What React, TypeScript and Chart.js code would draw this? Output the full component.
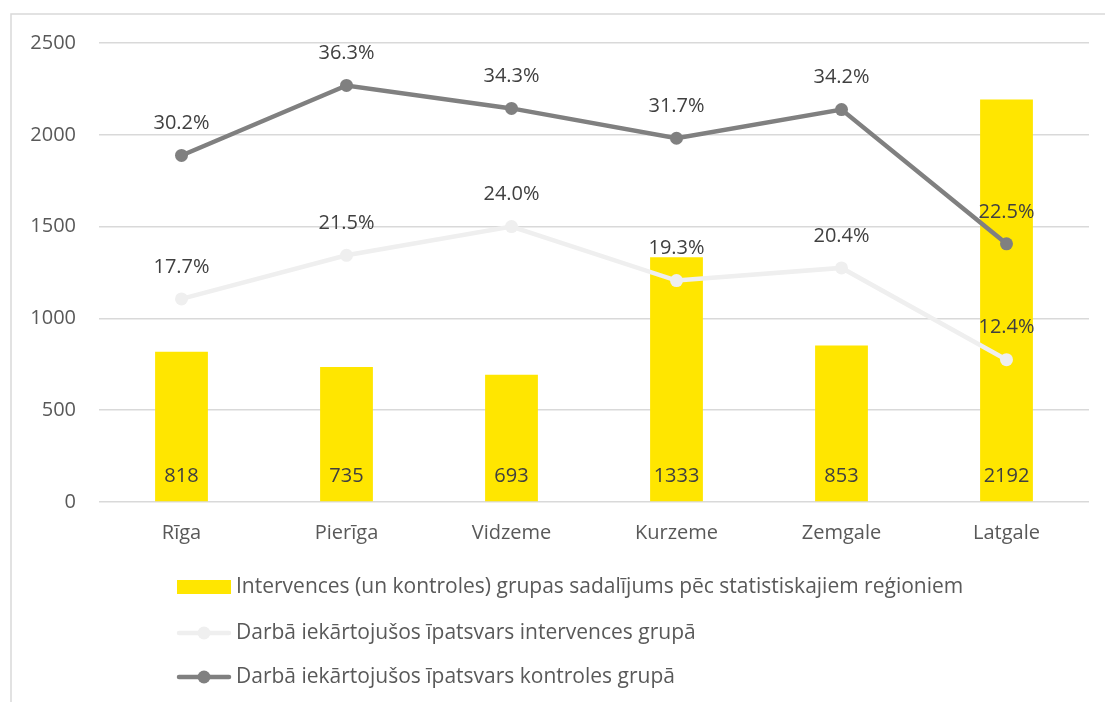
import React, { useEffect, useRef } from 'react';
import { Chart, registerables } from 'chart.js';

Chart.register(...registerables);

const categories = ['Rīga', 'Pierīga', 'Vidzeme', 'Kurzeme', 'Zemgale', 'Latgale'];
const participants = [818, 735, 693, 1333, 853, 2192];
const interventionRate = [17.7, 21.5, 24.0, 19.3, 20.4, 12.4];
const controlRate = [30.2, 36.3, 34.3, 31.7, 34.2, 22.5];
const seriesNames = [
  'Intervences (un kontroles) grupas sadalījums pēc statistiskajiem reģioniem',
  'Darbā iekārtojušos īpatsvars intervences grupā',
  'Darbā iekārtojušos īpatsvars kontroles grupā',
];
const leftAxisMax = 2500;
const leftAxisStep = 500;
const rightAxisMax = 40;

const YELLOW = '#FFE600';
const LIGHT = '#EFEFEF';
const DARK = '#808080';
const GRID = '#D9D9D9';
const AXIS_TEXT = '#595959';
const LABEL_TEXT = '#404040';
const FONT = '"Open Sans", Lato, sans-serif';

const framePlugin = {
  id: 'frame',
  beforeDraw(chart: any) {
    const ctx = chart.ctx;
    ctx.save();
    ctx.strokeStyle = GRID;
    ctx.lineWidth = 1.5;
    ctx.strokeRect(11, 14, chart.width + 100, chart.height + 100);
    ctx.restore();
  },
};

const labelsPlugin = {
  id: 'valueLabels',
  afterDatasetsDraw(chart: any) {
    const ctx = chart.ctx;
    ctx.save();
    ctx.textAlign = 'center';
    ctx.textBaseline = 'middle';
    ctx.fillStyle = LABEL_TEXT;
    ctx.font = `20px ${FONT}`;
    chart.data.datasets.forEach((ds: any, i: number) => {
      const meta = chart.getDatasetMeta(i);
      meta.data.forEach((el: any, j: number) => {
        const v = ds.data[j];
        if (ds.type === 'bar') {
          ctx.fillText(String(v), el.x, el.base - 25);
        } else {
          ctx.fillText(v.toFixed(1) + '%', el.x, el.y - 32);
        }
      });
    });
    ctx.restore();
  },
};

const legendPlugin = {
  id: 'stackLegend',
  afterDraw(chart: any) {
    const ctx = chart.ctx;
    const area = chart.chartArea;
    const x0 = 177;
    const symW = 54;
    const rows = [area.bottom + 85, area.bottom + 131, area.bottom + 175];
    ctx.save();
    ctx.font = `21px ${FONT}`;
    ctx.textBaseline = 'middle';
    ctx.textAlign = 'left';
    chart.data.datasets.forEach((ds: any, i: number) => {
      const y = rows[i];
      if (ds.type === 'bar') {
        ctx.fillStyle = ds.backgroundColor;
        ctx.fillRect(x0, y - 7, symW, 14);
      } else {
        ctx.strokeStyle = ds.borderColor;
        ctx.lineWidth = ds.borderWidth;
        ctx.lineCap = 'round';
        ctx.beginPath();
        ctx.moveTo(x0 + 2, y);
        ctx.lineTo(x0 + symW - 2, y);
        ctx.stroke();
        ctx.fillStyle = ds.pointBackgroundColor;
        ctx.beginPath();
        ctx.arc(x0 + symW / 2, y, 6.5, 0, Math.PI * 2);
        ctx.fill();
      }
      ctx.fillStyle = AXIS_TEXT;
      ctx.fillText(ds.label, x0 + symW + 5, y);
    });
    ctx.restore();
  },
};

export default function App() {
  const canvasRef = useRef<HTMLCanvasElement | null>(null);

  useEffect(() => {
    if (!canvasRef.current) return;
    const chart = new Chart(canvasRef.current, {
      type: 'bar',
      data: {
        labels: categories,
        datasets: [
          {
            type: 'bar',
            label: seriesNames[0],
            data: participants,
            backgroundColor: YELLOW,
            yAxisID: 'y',
            order: 3,
            barPercentage: 0.64,
            categoryPercentage: 0.5,
          },
          {
            type: 'line',
            label: seriesNames[1],
            data: interventionRate,
            borderColor: LIGHT,
            backgroundColor: LIGHT,
            pointBackgroundColor: LIGHT,
            pointBorderColor: LIGHT,
            borderWidth: 4.5,
            pointRadius: 6.5,
            pointBorderWidth: 0,
            yAxisID: 'y2',
            order: 2,
          },
          {
            type: 'line',
            label: seriesNames[2],
            data: controlRate,
            borderColor: DARK,
            backgroundColor: DARK,
            pointBackgroundColor: DARK,
            pointBorderColor: DARK,
            borderWidth: 4.5,
            pointRadius: 6.5,
            pointBorderWidth: 0,
            yAxisID: 'y2',
            order: 1,
          },
        ] as any,
      },
      options: {
        animation: false,
        responsive: true,
        maintainAspectRatio: false,
        layout: { padding: { top: 43, right: 16, bottom: 150, left: 0 } },
        plugins: {
          legend: { display: false },
          tooltip: { enabled: false },
        },
        scales: {
          x: {
            grid: { display: false, drawTicks: false },
            border: { display: false },
            ticks: { color: AXIS_TEXT, font: { family: FONT, size: 20 }, padding: 19 },
            afterFit: (s: any) => { s.height = 50; },
          },
          y: {
            min: 0,
            max: leftAxisMax,
            ticks: {
              stepSize: leftAxisStep,
              color: AXIS_TEXT,
              font: { family: FONT, size: 20 },
              padding: 23,
              callback: (v: any) => String(v),
            },
            grid: { color: GRID, lineWidth: 1.5, drawTicks: false },
            border: { display: false },
            afterFit: (s: any) => { s.width = 99; },
          },
          y2: {
            display: false,
            min: 0,
            max: rightAxisMax,
            position: 'right',
            grid: { display: false },
          },
        },
      },
      plugins: [framePlugin, labelsPlugin, legendPlugin],
    });
    return () => chart.destroy();
  }, []);

  return (
    <div style={{ position: 'absolute', left: 0, top: 0, width: 1105, height: 702, background: '#fff' }}>
      <canvas ref={canvasRef} />
    </div>
  );
}
